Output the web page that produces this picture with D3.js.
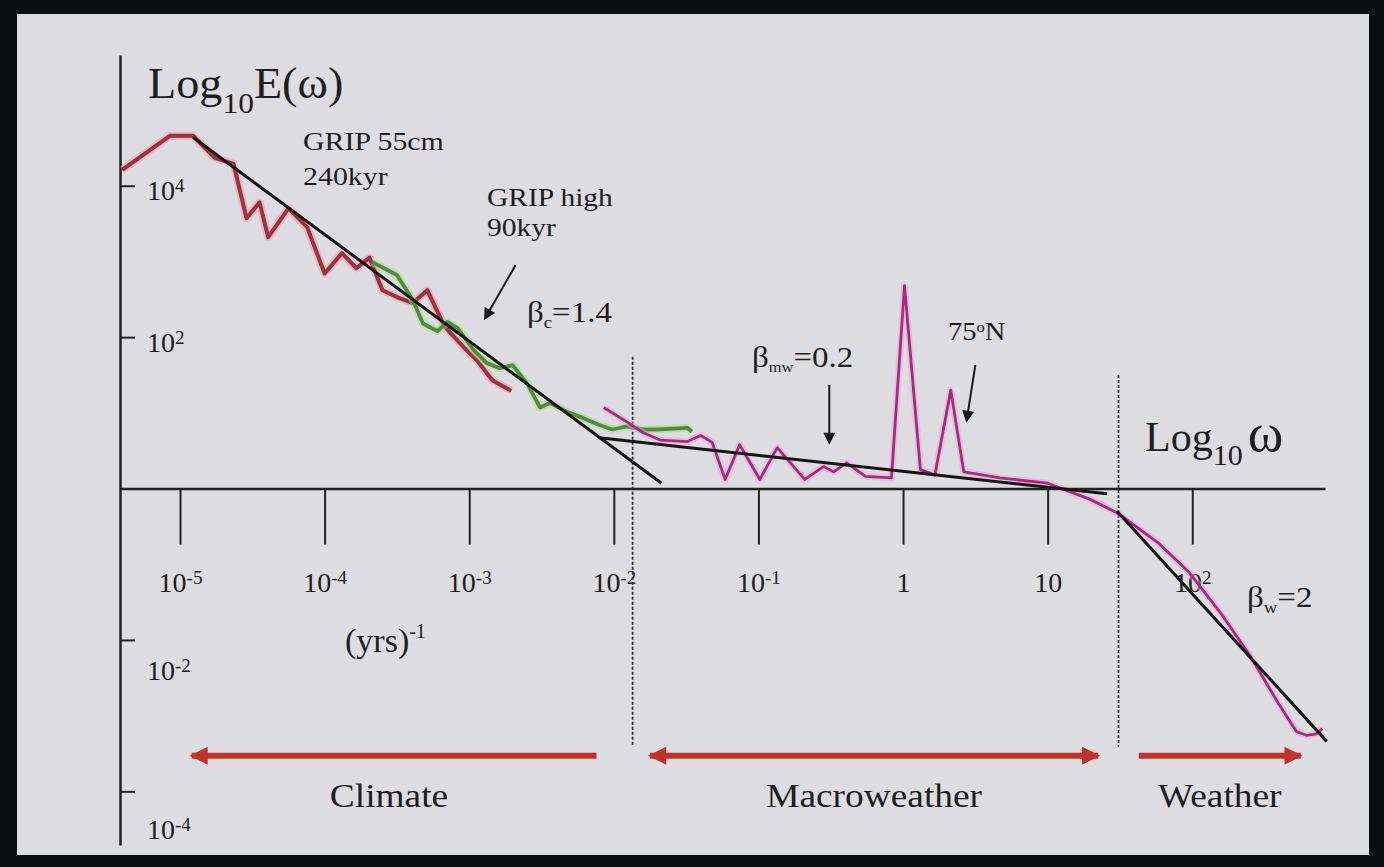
<!DOCTYPE html>
<html><head><meta charset="utf-8">
<script src="https://cdn.jsdelivr.net/npm/d3@7"></script>
<style>
body{margin:0;background:#0d0e12;}
text{font-family:"Liberation Serif","Times New Roman",serif;fill:#1e1e1e;}
</style>
</head><body><svg id="c" width="1384" height="867"></svg>
<script>
// ---- data (log10 units) ----
const xTicks = [-5, -4, -3, -2, -1, 0, 1, 2];
const yTicks = [4, 2, -2, -4];
// GRIP 55cm, 240kyr  [log10 ω, log10 E]
const grip55 = [[-5.40,4.21],[-5.07,4.66],[-4.91,4.66],[-4.76,4.37],[-4.63,4.29],[-4.54,3.57],[-4.45,3.78],[-4.39,3.32],[-4.25,3.70],[-4.12,3.45],[-4.00,2.84],[-3.88,3.11],[-3.78,2.91],[-3.69,3.05],[-3.60,2.62],[-3.50,2.53],[-3.39,2.45],[-3.29,2.62],[-3.17,2.14],[-3.04,1.87],[-2.95,1.70],[-2.84,1.43],[-2.71,1.29]];
// GRIP high, 90kyr
const gripHigh = [[-3.67,2.99],[-3.50,2.82],[-3.39,2.49],[-3.32,2.18],[-3.22,2.08],[-3.15,2.20],[-3.08,2.12],[-2.97,1.83],[-2.88,1.66],[-2.79,1.59],[-2.70,1.63],[-2.60,1.39],[-2.51,1.07],[-2.44,1.13],[-2.32,1.01],[-2.21,0.93],[-2.10,0.84],[-2.01,0.78],[-1.91,0.82],[-1.80,0.78],[-1.70,0.78],[-1.49,0.80],[-1.46,0.75]];
// 75°N
const n75 = [[-2.07,1.07],[-1.91,0.88],[-1.80,0.74],[-1.68,0.64],[-1.49,0.62],[-1.40,0.70],[-1.32,0.61],[-1.23,0.12],[-1.13,0.58],[-0.99,0.12],[-0.87,0.54],[-0.68,0.12],[-0.55,0.29],[-0.48,0.22],[-0.39,0.34],[-0.26,0.16],[-0.08,0.14],[0.01,2.68],[0.12,0.25],[0.22,0.18],[0.33,1.30],[0.42,0.22],[0.67,0.14],[1.00,0.07],[1.29,-0.14],[1.48,-0.32],[1.76,-0.71],[1.98,-1.11],[2.21,-1.68],[2.40,-2.21],[2.59,-2.82],[2.72,-3.21],[2.79,-3.26],[2.86,-3.24],[2.90,-3.17]];
// fitted scaling lines
const fitClimate = [[-4.91,4.64],[-1.67,0.07]];
const fitMacro = [[-2.10,0.67],[1.41,-0.07]];
const fitWeather = [[1.48,-0.30],[2.93,-3.34]];
// regime boundaries (log10 ω, top) and bottom
const boundaries = [[-1.87,1.74],[1.49,1.50]];
const boundaryBottom = -3.41;
// regime arrows
const regimeNames = ["Climate","Macroweather","Weather"];
const regimeFrom = [-4.92,-1.75,1.63];
const regimeTo = [-2.12,1.35,2.75];
const regimeHeads = [["start"],["start","end"],["end"]];
const regimeY = -3.53;

// ---- layout ----
const svg = d3.select("#c");
svg.append("rect").attr("x",17).attr("y",14).attr("width",1352).attr("height",841).attr("fill","#dcdce1");

const x = d3.scaleLinear().domain([-5.415, 2.918]).range([120, 1325]);
const y = d3.scaleLinear().domain([-4.709, 5.727]).range([845, 55]);

function stretch(sel, s){
  const px = +sel.attr("x")||0, py = +sel.attr("y")||0;
  sel.attr("transform",`translate(${px},${py}) scale(${s},1) translate(${-px},${-py})`);
  return sel;
}

const defs = svg.append("defs");
defs.append("marker").attr("id","redHead").attr("viewBox","0 0 10 10").attr("refX",9).attr("refY",5)
  .attr("markerWidth",24).attr("markerHeight",18).attr("markerUnits","userSpaceOnUse").attr("orient","auto-start-reverse")
  .append("path").attr("d","M0,0 L10,5 L0,10 Z").attr("fill","#c0322c");
defs.append("marker").attr("id","blkHead").attr("viewBox","0 0 10 10").attr("refX",8).attr("refY",5)
  .attr("markerWidth",14).attr("markerHeight",12).attr("markerUnits","userSpaceOnUse").attr("orient","auto")
  .append("path").attr("d","M0,0 L10,5 L0,10 Z").attr("fill","#1a1a1a");

function sup(sel, base, exp, size){
  sel.text(null);
  sel.append("tspan").text(base);
  if (exp !== null) sel.append("tspan").attr("dy","-0.42em").attr("font-size",size).text(exp);
}
function tickText(k){ return k===0 ? ["1",null] : k===1 ? ["10",null] : ["10", String(k)]; }

// x axis
const gx = svg.append("g").attr("transform",`translate(0,${y(0)})`)
  .call(d3.axisBottom(x).tickValues(xTicks).tickSize(56).tickSizeOuter(0).tickFormat(()=>""));
gx.select(".domain").attr("stroke","#222").attr("stroke-width",2.5);
gx.selectAll(".tick line").attr("stroke","#222").attr("stroke-width",2);
gx.selectAll(".tick text").each(function(k){
  const t = d3.select(this).attr("y",103).attr("dy",0).attr("font-size",28).attr("font-family","Liberation Serif").attr("fill","#1e1e1e");
  const [b,e] = tickText(k); sup(t,b,e,19);
});

// y axis
const gy = svg.append("g").attr("transform",`translate(${x.range()[0]},0)`)
  .call(d3.axisRight(y).tickValues(yTicks).tickSize(15).tickSizeOuter(0).tickFormat(()=>""));
gy.select(".domain").attr("stroke","#222").attr("stroke-width",2.5);
gy.selectAll(".tick line").attr("stroke","#222").attr("stroke-width",2);
gy.selectAll(".tick text").each(function(k){
  const t = d3.select(this).attr("x",27).attr("dy",0).attr("y", k>0 ? 14 : (k===-2 ? 40 : 47)).attr("text-anchor","start")
    .attr("font-size",28).attr("font-family","Liberation Serif").attr("fill","#1e1e1e");
  const [b,e] = tickText(k); sup(t,b,e,19);
});

// boundaries
svg.selectAll(".bnd").data(boundaries).join("line")
  .attr("x1",d=>x(d[0])).attr("x2",d=>x(d[0])).attr("y1",d=>y(d[1])).attr("y2",y(boundaryBottom))
  .attr("stroke","#2a2a2a").attr("stroke-width",1.7).attr("stroke-dasharray","3,2");

const line = d3.line().x(d=>x(d[0])).y(d=>y(d[1]));
function curve(data, core, halo, w){
  svg.append("path").datum(data).attr("d",line).attr("fill","none").attr("stroke",halo).attr("stroke-width",w+4).attr("stroke-opacity",0.45).attr("stroke-linejoin","round");
  svg.append("path").datum(data).attr("d",line).attr("fill","none").attr("stroke",core).attr("stroke-width",w).attr("stroke-linejoin","round");
}
curve(grip55, "#a3303e", "#e09aa3", 4);
curve(gripHigh, "#4e8e37", "#a8d890", 3.8);
curve(n75, "#a82a80", "#eaa2d6", 2.8);

[fitClimate, fitMacro, fitWeather].forEach(f=>{
  svg.append("path").datum(f).attr("d",line).attr("fill","none").attr("stroke","#151515").attr("stroke-width",3);
});

// regime arrows
regimeNames.forEach((n,i)=>{
  const l = svg.append("line").attr("x1",x(regimeFrom[i])).attr("x2",x(regimeTo[i]))
    .attr("y1",y(regimeY)).attr("y2",y(regimeY)).attr("stroke","#c0322c").attr("stroke-width",6);
  if (regimeHeads[i].includes("start")) l.attr("marker-start","url(#redHead)");
  if (regimeHeads[i].includes("end")) l.attr("marker-end","url(#redHead)");
  stretch(svg.append("text").attr("x",(x(regimeFrom[i])+x(regimeTo[i]))/2 - (i===0?5:0)).attr("y",y(regimeY)+51)
    .attr("text-anchor","middle").attr("font-size",34).text(n), 1.1);
});

// annotation arrows
const annArrows = [[[-2.68,2.95],[-2.89,2.25]],[[-0.51,1.37],[-0.51,0.61]],[[0.50,1.63],[0.44,0.90]]];
annArrows.forEach(a=>{
  svg.append("line").attr("x1",x(a[0][0])).attr("y1",y(a[0][1])).attr("x2",x(a[1][0])).attr("y2",y(a[1][1]))
    .attr("stroke","#1a1a1a").attr("stroke-width",2).attr("marker-end","url(#blkHead)");
});

// text annotations
function txt(px,py,size){ return svg.append("text").attr("x",px).attr("y",py).attr("font-size",size); }
let t = txt(148,98,44); t.append("tspan").text("Log"); t.append("tspan").attr("dy",15).attr("font-size",30).text("10");
t.append("tspan").attr("dy",-15).text("E(ω)"); stretch(t,1.05);
stretch(txt(303,150,26).text("GRIP 55cm"),1.15);
stretch(txt(303,185,26).text("240kyr"),1.15);
stretch(txt(487,206,25).text("GRIP high"),1.18);
stretch(txt(487,236,25).text("90kyr"),1.18);
t = txt(527,322,30); t.append("tspan").text("β"); t.append("tspan").attr("dy",6).attr("font-size",17).text("c"); t.append("tspan").attr("dy",-6).text("=1.4"); stretch(t,1.1);
t = txt(752,367,30); t.append("tspan").text("β"); t.append("tspan").attr("dy",5).attr("font-size",15).text("mw"); t.append("tspan").attr("dy",-5).text("=0.2"); stretch(t,1.1);
t = txt(948,340,26); t.append("tspan").text("75"); t.append("tspan").attr("dy",-8).attr("font-size",15).text("o"); t.append("tspan").attr("dy",8).text("N"); stretch(t,1.1);
t = txt(1145,451,42); t.append("tspan").text("Log"); t.append("tspan").attr("dy",14).attr("font-size",30).text("10"); t.append("tspan").attr("dy",-14).attr("dx",5).attr("font-size",54).text("ω");
t = txt(1247,607,30); t.append("tspan").text("β"); t.append("tspan").attr("dy",6).attr("font-size",17).text("w"); t.append("tspan").attr("dy",-6).text("=2"); stretch(t,1.1);
t = txt(345,652,34); t.append("tspan").text("(yrs)"); t.append("tspan").attr("dy",-14).attr("font-size",20).text("-1");
</script>
</body></html>
